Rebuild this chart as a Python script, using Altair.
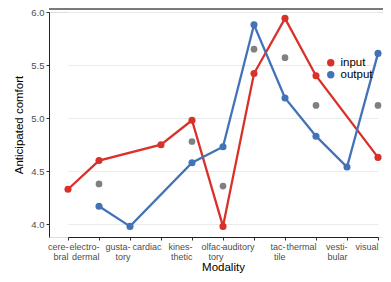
import altair as alt
import pandas as pd

categories = ["cere-|bral", "electro-|dermal", "gusta-|tory", "cardiac", "kines-|thetic",
              "olfac-|tory", "auditory", "tac-|tile", "thermal", "vesti-|bular", "visual"]
input_vals = [4.33, 4.60, None, 4.75, 4.98, 3.98, 5.42, 5.94, 5.40, None, 4.63]
output_vals = [None, 4.17, 3.98, None, 4.58, 4.73, 5.88, 5.19, 4.83, 4.54, 5.61]
grey_vals = [None, 4.38, None, None, 4.78, 4.36, 5.65, 5.57, 5.12, None, 5.12]

rows = []
for c, i, o in zip(categories, input_vals, output_vals):
    if i is not None:
        rows.append({"Modality": c, "dir": "input", "v": i})
    if o is not None:
        rows.append({"Modality": c, "dir": "output", "v": o})
df = pd.DataFrame(rows)
gdf = pd.DataFrame([{"Modality": c, "v": g} for c, g in zip(categories, grey_vals) if g is not None])

W, H = 334, 225
xscale = alt.Scale(domain=categories, type="point", range=[19, 329], padding=0)
yscale = alt.Scale(domain=[3.88, 6.0], nice=False, zero=False)

xaxis = alt.Axis(title="Modality", labelExpr="split(datum.label, '|')", labelAngle=0,
                 labelColor="#4d4d4d", labelFontSize=9, labelPadding=6, tickSize=3,
                 tickColor="#333333", domainColor="#222222", gridColor="#ebebeb",
                 titleFontSize=11.5, titleFontWeight="normal", titlePadding=0,
                 titleColor="black", labelLineHeight=10.5)
yaxis = alt.Axis(title="Anticipated comfort", values=[4.0, 4.25, 4.5, 4.75, 5.0, 5.25, 5.5, 5.75, 6.0],
                 labelExpr="datum.value % 0.5 == 0 ? format(datum.value, '.1f') : ''",
                 tickOpacity={"condition": {"test": "datum.value % 0.5 != 0", "value": 0}, "value": 1},
                 labelColor="#4d4d4d", labelFontSize=9.5, tickSize=3, labelPadding=2,
                 tickColor="#333333", domainColor="#222222", gridColor="#ebebeb",
                 titleFontSize=11.5, titleFontWeight="normal", titlePadding=6, titleColor="black")

cscale = alt.Scale(domain=["input", "output"], range=["#d9302a", "#4272b8"])
color = alt.Color("dir:N", scale=cscale,
                  legend=alt.Legend(title=None, orient="none", legendX=276, legendY=45,
                                    symbolType="circle", symbolSize=55, labelFontSize=11.5,
                                    symbolStrokeWidth=0, rowPadding=-2, labelOffset=4))

base = alt.Chart(df)
lines = base.mark_line(strokeWidth=2.3).encode(
    x=alt.X("Modality:N", scale=xscale, axis=xaxis, sort=categories),
    y=alt.Y("v:Q", scale=yscale, axis=yaxis),
    color=color, detail="dir:N")
pts = base.mark_circle(size=50, opacity=1).encode(
    x=alt.X("Modality:N", scale=xscale, sort=categories),
    y=alt.Y("v:Q", scale=yscale),
    color=alt.Color("dir:N", scale=cscale, legend=None))
grey = alt.Chart(gdf).mark_circle(size=45, color="#808080", opacity=1).encode(
    x=alt.X("Modality:N", scale=xscale, sort=categories),
    y=alt.Y("v:Q", scale=yscale))
top = alt.Chart(gdf).mark_rule(color="#7a7a7a", strokeWidth=2).encode(
    x=alt.value(0), x2=alt.value(W), y=alt.value(-3))

chart = alt.layer(grey, lines, pts, top).properties(
    width=W, height=H, autosize=alt.AutoSizeParams(type="none"),
    padding={"left": 41, "top": 4, "right": 0, "bottom": 36}
).configure_view(stroke=None).configure(font="Liberation Sans")

chart.save("out.html", embed_options={"renderer": "svg", "actions": False})
